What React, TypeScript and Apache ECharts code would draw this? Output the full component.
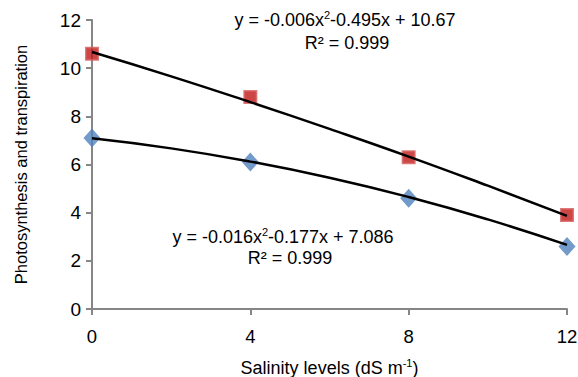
import React, { useEffect, useRef } from "react";
import * as echarts from "echarts";

const xTicks = [0, 4, 8, 12];
const photosynthesis = [10.6, 8.8, 6.3, 3.9];
const transpiration = [7.1, 6.1, 4.6, 2.6];
const trendX = [0, 2, 4, 6, 8, 10, 12];
const photoTrend = [10.67, 9.66, 8.59, 7.48, 6.33, 5.12, 3.87];
const transTrend = [7.09, 6.67, 6.12, 5.45, 4.65, 3.72, 2.66];

const FONT = "'Liberation Sans', Arial, sans-serif";
const AXIS = "#868686";

export default function App() {
  const ref = useRef<HTMLDivElement>(null);
  useEffect(() => {
    document.body.style.margin = "0";
    const chart = echarts.init(ref.current!, null, { renderer: "svg" });
    const eqRich = {
      a: { fontSize: 18, fontFamily: FONT, color: "#000" },
      s: { fontSize: 11, fontFamily: FONT, color: "#000", padding: [0, 0, 10, 0] },
    };
    chart.setOption({
      animation: false,
      textStyle: { fontFamily: FONT },
      grid: { left: 92, right: 11, top: 20, bottom: 68, containLabel: false, outerBoundsMode: "none" },
      xAxis: {
        type: "value",
        min: 0,
        max: 12,
        interval: 4,
        name: "Salinity levels (dS m{s|-1})",
        nameLocation: "middle",
        nameGap: 48,
        nameTextStyle: {
          fontSize: 18,
          color: "#000",
          fontFamily: FONT,
          rich: {
            s: { fontSize: 11, fontFamily: FONT, color: "#000", padding: [0, 0, 10, 0] },
          },
        },
        axisLine: { lineStyle: { color: AXIS, width: 2 } },
        axisTick: { show: true, length: 6, lineStyle: { color: AXIS, width: 2 } },
        splitLine: { show: false },
        axisLabel: {
          fontSize: 18.5,
          color: "#000",
          margin: 18,
          fontFamily: FONT,
          formatter: (v: number) => (xTicks.includes(v) ? String(v) : ""),
        },
      },
      yAxis: {
        type: "value",
        min: 0,
        max: 12,
        interval: 2,
        name: "Photosynthesis and transpiration",
        nameLocation: "middle",
        nameRotate: 90,
        nameGap: 63,
        nameTextStyle: { fontSize: 16.5, color: "#000", fontFamily: FONT },
        axisLine: { show: true, lineStyle: { color: AXIS, width: 2 } },
        axisTick: { show: true, length: 6, lineStyle: { color: AXIS, width: 2 } },
        splitLine: { show: false },
        axisLabel: { fontSize: 19, color: "#000", margin: 11, fontFamily: FONT },
      },
      graphic: [
        {
          type: "text",
          x: 345,
          y: 20,
          style: {
            text: "{a|y = -0.006x}{s|2}{a|-0.495x + 10.67}",
            rich: eqRich,
            align: "center",
            verticalAlign: "middle",
          },
        },
        {
          type: "text",
          x: 347,
          y: 43,
          style: {
            text: "R² = 0.999",
            font: `18px ${FONT}`,
            fill: "#000",
            align: "center",
            verticalAlign: "middle",
          },
        },
        {
          type: "text",
          x: 283,
          y: 237,
          style: {
            text: "{a|y = -0.016x}{s|2}{a|-0.177x + 7.086}",
            rich: eqRich,
            align: "center",
            verticalAlign: "middle",
          },
        },
        {
          type: "text",
          x: 290,
          y: 258,
          style: {
            text: "R² = 0.999",
            font: `18px ${FONT}`,
            fill: "#000",
            align: "center",
            verticalAlign: "middle",
          },
        },
      ],
      series: [
        {
          type: "scatter",
          data: xTicks.map((x, i) => [x, photosynthesis[i]]),
          symbol: "rect",
          symbolSize: 12,
          itemStyle: { color: "#C01818", borderColor: "#D45A5A", borderWidth: 2 },
          z: 2,
        },
        {
          type: "scatter",
          data: xTicks.map((x, i) => [x, transpiration[i]]),
          symbol: "diamond",
          symbolSize: [17, 19],
          itemStyle: { color: "#4F81BD" },
          z: 2,
        },
        {
          type: "line",
          data: trendX.map((x, i) => [x, photoTrend[i]]),
          smooth: true,
          showSymbol: false,
          symbol: "none",
          lineStyle: { color: "#000", width: 2.5 },
          z: 3,
        },
        {
          type: "line",
          data: trendX.map((x, i) => [x, transTrend[i]]),
          smooth: true,
          showSymbol: false,
          symbol: "none",
          lineStyle: { color: "#000", width: 2.5 },
          z: 3,
        },
      ],
    });
    return () => chart.dispose();
  }, []);
  return <div ref={ref} style={{ width: 578, height: 377 }} />;
}
